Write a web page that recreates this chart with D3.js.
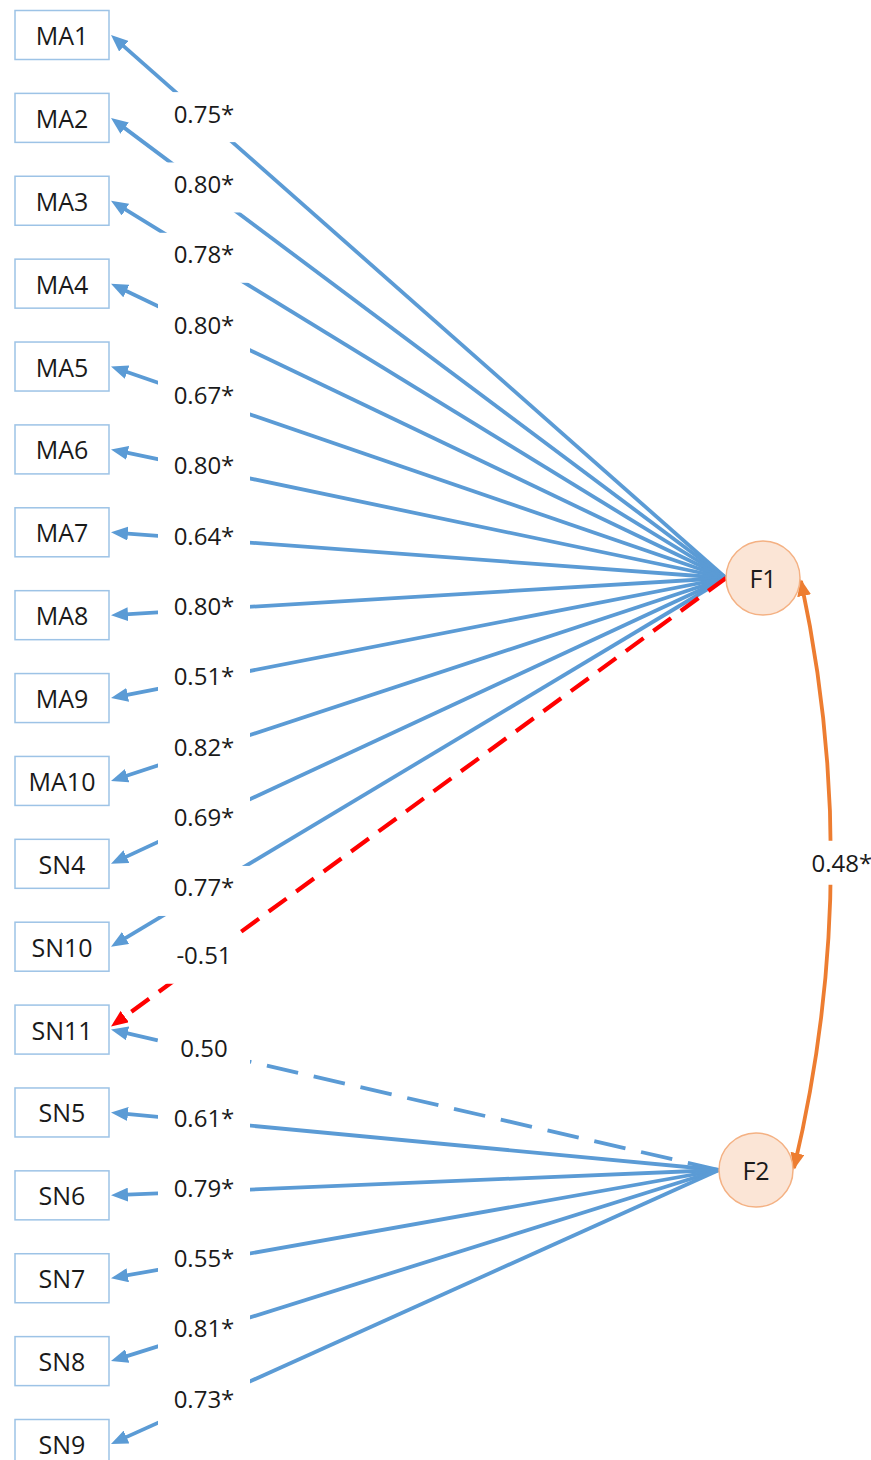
<!DOCTYPE html>
<html><head><meta charset="utf-8">
<script src="https://cdn.jsdelivr.net/npm/d3@7"></script>
<style>
body{margin:0;background:#fff;}
svg{display:block;}
text{font-family:"Open Sans","Noto Sans",sans-serif;}
</style>
</head><body>
<svg id="chart" width="871" height="1460"></svg>
<script>
// ---- data ----
const indicators = ["MA1","MA2","MA3","MA4","MA5","MA6","MA7","MA8","MA9","MA10","SN4","SN10","SN11","SN5","SN6","SN7","SN8","SN9"];
const indicatorFactor = ["F1","F1","F1","F1","F1","F1","F1","F1","F1","F1","F1","F1","F2","F2","F2","F2","F2","F2"];
const loadings = [0.75,0.80,0.78,0.80,0.67,0.80,0.64,0.80,0.51,0.82,0.69,0.77,0.50,0.61,0.79,0.55,0.81,0.73];
const loadingSig = [true,true,true,true,true,true,true,true,true,true,true,true,false,true,true,true,true,true];
const factors = ["F1","F2"];
const crossFactor = ["F1"];
const crossIndicator = ["SN11"];
const crossValue = [-0.51];
const crossSig = [false];
const corrFactors = ["F1","F2"];
const corrValue = 0.48;
const corrSig = true;

// ---- layout ----
const svg = d3.select("#chart");
const y = d3.scalePoint().domain(indicators).range([35, 1444]);
const fx = d3.scaleOrdinal().domain(factors).range([763, 756]);
const fy = d3.scaleOrdinal().domain(factors).range([578, 1170]);
const R = 37;
const boxX = 15, boxW = 94, boxH = 49;
const labelX = 204, gapX0 = 158, gapX1 = 250, gapH = 50;
const blue = "#5B9BD5", red = "#FF0000", orange = "#ED7D31";
const fmt = (v, s) => v.toFixed(2) + (s ? "*" : "");

const defs = svg.append("defs");
function marker(id, color) {
  defs.append("marker").attr("id", id)
    .attr("viewBox", "0 -7 17 14").attr("markerUnits", "userSpaceOnUse")
    .attr("markerWidth", 17).attr("markerHeight", 14)
    .attr("refX", 7).attr("refY", 0).attr("orient", "auto")
    .append("path").attr("d", "M0,-7L17,0L0,7Z").attr("fill", color);
}
marker("arrBlue", blue);
marker("arrRed", red);
defs.append("marker").attr("id", "arrOrange")
  .attr("viewBox", "0 -7 17 14").attr("markerUnits", "userSpaceOnUse")
  .attr("markerWidth", 17).attr("markerHeight", 14)
  .attr("refX", 15).attr("refY", 0).attr("orient", "auto-start-reverse")
  .append("path").attr("d", "M0,-7L17,0L0,7Z").attr("fill", orange);

// edges
const edges = indicators.map((ind, i) => ({
  ind, f: indicatorFactor[i], v: loadings[i], sig: loadingSig[i]
})).concat(crossIndicator.map((ind, i) => ({
  ind, f: crossFactor[i], v: crossValue[i], sig: crossSig[i]
})));

edges.forEach(e => {
  e.x1 = fx(e.f) - R; e.y1 = fy(e.f);
  e.tx = boxX + boxW + 2; e.ty = y(e.ind);
  if (e.v < 0) e.ty -= 3;
  const dx = e.tx - e.x1, dy = e.ty - e.y1, L = Math.hypot(dx, dy);
  e.x2 = e.tx - 10 * dx / L; e.y2 = e.ty - 10 * dy / L;
  const t = (labelX - e.x1) / dx;
  e.ly = e.y1 + t * dy;
  e.color = e.v < 0 ? red : blue;
});

const gLines = svg.append("g");
gLines.selectAll("line").data(edges).join("line")
  .attr("x1", d => d.x1).attr("y1", d => d.y1)
  .attr("x2", d => d.x2).attr("y2", d => d.y2)
  .attr("stroke", d => d.color).attr("stroke-width", d => d.v < 0 ? 4.2 : 3.8)
  .attr("stroke-dasharray", d => d.sig ? null : (d.v < 0 ? "22,12" : "32,16"))
  .attr("marker-end", d => d.v < 0 ? "url(#arrRed)" : "url(#arrBlue)");

// correlation curve
const a = corrFactors[0], b = corrFactors[1];
const p0 = [fx(a) + R + 1, fy(a) + 3], p2 = [fx(b) + R + 1, fy(b) - 2];
const c = [Math.max(p0[0], p2[0]) + 63, (p0[1] + p2[1]) / 2];
svg.append("path")
  .attr("d", `M${p0[0]},${p0[1]}Q${c[0]},${c[1]} ${p2[0]},${p2[1]}`)
  .attr("fill", "none").attr("stroke", orange).attr("stroke-width", 3.8)
  .attr("marker-start", "url(#arrOrange)").attr("marker-end", "url(#arrOrange)");
const tt = 0.48;
const qx = (1-tt)*(1-tt)*p0[0] + 2*tt*(1-tt)*c[0] + tt*tt*p2[0];
const qy = (1-tt)*(1-tt)*p0[1] + 2*tt*(1-tt)*c[1] + tt*tt*p2[1];

// label gaps
const gLab = svg.append("g");
gLab.selectAll("rect").data(edges).join("rect")
  .attr("x", gapX0).attr("width", gapX1 - gapX0)
  .attr("y", d => d.ly - gapH / 2).attr("height", gapH)
  .attr("fill", "#fff");
gLab.append("rect").attr("x", qx + 10 - 32).attr("y", qy - 22)
  .attr("width", 64).attr("height", 44).attr("fill", "#fff");

gLab.selectAll("text").data(edges).join("text")
  .attr("x", labelX).attr("y", d => d.ly - 4)
  .attr("text-anchor", "middle").attr("dominant-baseline", "central")
  .attr("font-size", 24).attr("fill", "#1a1a1a")
  .text(d => fmt(d.v, d.sig));
gLab.append("text").attr("x", qx + 11).attr("y", qy)
  .attr("text-anchor", "middle").attr("dominant-baseline", "central")
  .attr("font-size", 24).attr("fill", "#1a1a1a")
  .text(fmt(corrValue, corrSig));

// indicator boxes
const gBox = svg.append("g").selectAll("g").data(indicators).join("g")
  .attr("transform", d => `translate(${boxX},${y(d) - boxH / 2})`);
gBox.append("rect").attr("width", boxW).attr("height", boxH)
  .attr("fill", "#fff").attr("stroke", "#9DC3E6").attr("stroke-width", 1.5);
gBox.append("text").attr("x", boxW / 2).attr("y", boxH / 2)
  .attr("text-anchor", "middle").attr("dominant-baseline", "central")
  .attr("font-size", 25).attr("fill", "#1a1a1a").text(d => d);

// factor circles
const gF = svg.append("g").selectAll("g").data(factors).join("g")
  .attr("transform", d => `translate(${fx(d)},${fy(d)})`);
gF.append("circle").attr("r", R).attr("fill", "#FBE5D6")
  .attr("stroke", "#F4B183").attr("stroke-width", 1.5);
gF.append("text").attr("text-anchor", "middle").attr("dominant-baseline", "central")
  .attr("font-size", 25).attr("fill", "#1a1a1a").text(d => d);
</script>
</body></html>
